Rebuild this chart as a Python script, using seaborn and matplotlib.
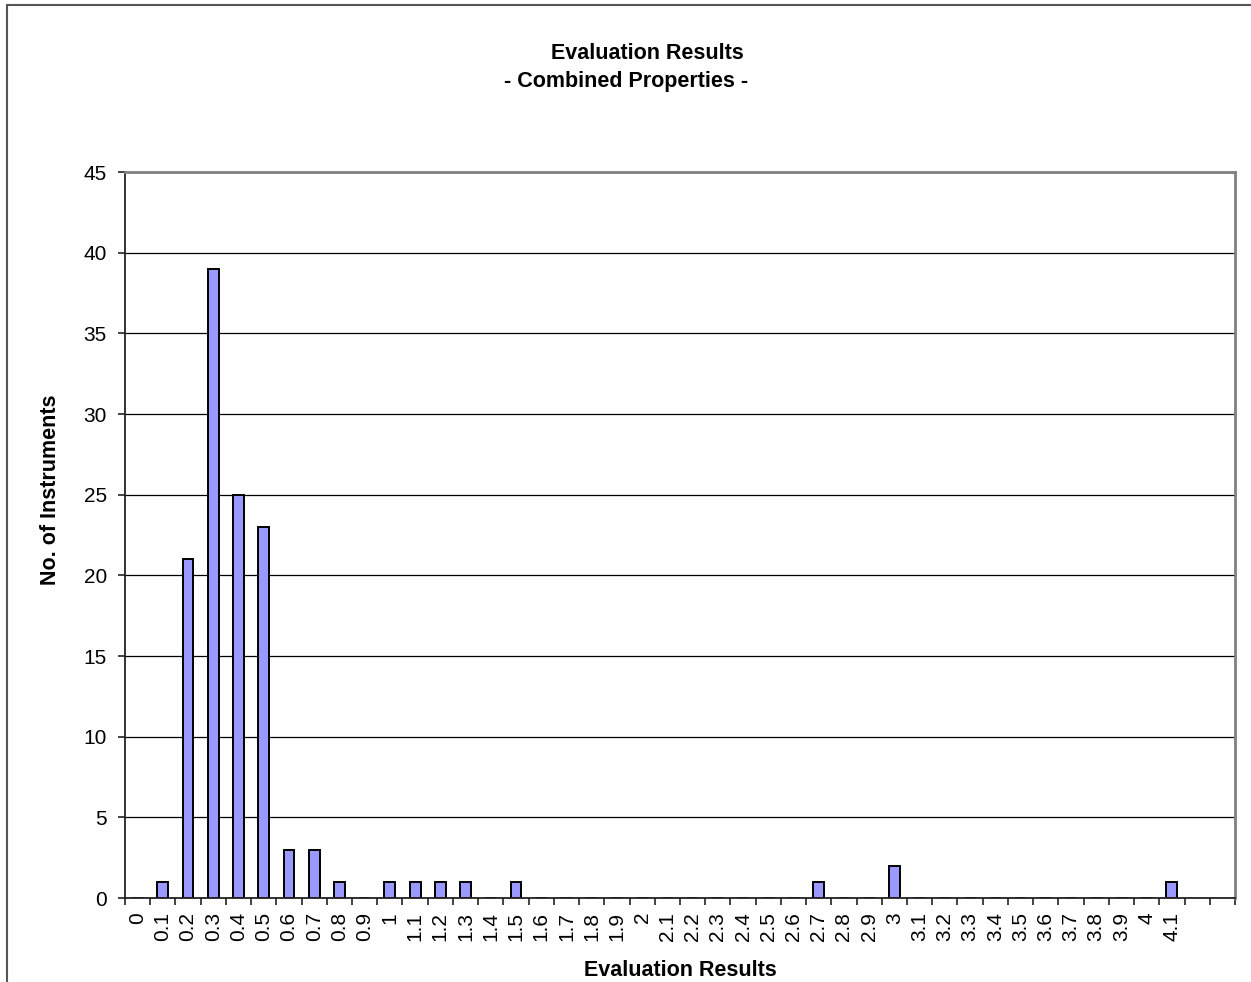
import pandas as pd
import matplotlib.pyplot as plt
from matplotlib.lines import Line2D
from matplotlib.ticker import MultipleLocator, FixedLocator
import seaborn as sns

# data
score_labels = ["0", "0.1", "0.2", "0.3", "0.4", "0.5", "0.6", "0.7", "0.8", "0.9",
                "1", "1.1", "1.2", "1.3", "1.4", "1.5", "1.6", "1.7", "1.8", "1.9",
                "2", "2.1", "2.2", "2.3", "2.4", "2.5", "2.6", "2.7", "2.8", "2.9",
                "3", "3.1", "3.2", "3.3", "3.4", "3.5", "3.6", "3.7", "3.8", "3.9",
                "4", "4.1"]
instrument_counts = [0, 1, 21, 39, 25, 23, 3, 3, 1, 0,
                     1, 1, 1, 1, 0, 1, 0, 0, 0, 0,
                     0, 0, 0, 0, 0, 0, 0, 1, 0, 0,
                     2, 0, 0, 0, 0, 0, 0, 0, 0, 0,
                     0, 1]
empty_slots = 2  # excel leaves two unlabeled slots at the right

df = pd.DataFrame({"score": score_labels, "count": instrument_counts})

sns.set_style("white")
plt.rcParams["font.family"] = ["Liberation Sans", "DejaVu Sans"]
plt.rcParams.update({"text.color": "black", "axes.labelcolor": "black",
                     "xtick.color": "black", "ytick.color": "black"})

fig = plt.figure(figsize=(12.51, 9.82), dpi=100)
ax = fig.add_axes([0.0999, 0.0855, 0.8873, 0.7393])

sns.barplot(data=df, x="score", y="count", order=score_labels, color="#9999FF",
            saturation=1, width=0.43, edgecolor="black", linewidth=1.4, ax=ax)

ax.set_xlim(-0.5, len(score_labels) - 0.5 + empty_slots)
ax.set_ylim(0, 45)
ax.yaxis.set_major_locator(MultipleLocator(5))
ax.grid(axis="y", color="black", linewidth=0.9)
ax.set_axisbelow(True)

# x: labels at slot centers, tick marks at slot boundaries
ax.set_xticks(range(len(score_labels)))
ax.set_xticklabels(score_labels, rotation=90, fontsize=15)
n_slots = len(score_labels) + empty_slots
ax.xaxis.set_minor_locator(FixedLocator([i - 0.5 for i in range(n_slots + 1)]))
ax.tick_params(axis="x", which="major", bottom=True, length=0, pad=10)
ax.tick_params(axis="x", which="minor", bottom=True, length=5, width=1.2,
               color="#222222", direction="out")
ax.tick_params(axis="y", left=True, length=5, width=1.2, color="#222222",
               direction="out", pad=8, labelsize=15)

for side in ["left", "bottom"]:
    ax.spines[side].set_color("#222222")
    ax.spines[side].set_linewidth(1.3)
for side in ["top", "right"]:
    ax.spines[side].set_visible(True)
    ax.spines[side].set_color("#808080")
    ax.spines[side].set_linewidth(2)

ax.set_xlabel("Evaluation Results", fontsize=15.5, fontweight="bold")
ax.set_ylabel("No. of Instruments", fontsize=15.5, fontweight="bold")
ax.xaxis.set_label_coords(0.5, -0.085)
ax.yaxis.set_label_coords(-0.058, 0.562)

fig.text(0.5176, 0.946, "Evaluation Results", ha="center", va="center",
         fontsize=15.5, fontweight="bold")
fig.text(0.5004, 0.9165, "- Combined Properties -", ha="center", va="center",
         fontsize=15.5, fontweight="bold")

# chart area border (only top and left visible in the crop)
fig.add_artist(Line2D([0.0056, 1.0], [0.9949, 0.9949], transform=fig.transFigure,
                      color="#555555", linewidth=1.5))
fig.add_artist(Line2D([0.0056, 0.0056], [0.0, 0.9949], transform=fig.transFigure,
                      color="#555555", linewidth=1.5))

fig.savefig("out.png", dpi=100)
